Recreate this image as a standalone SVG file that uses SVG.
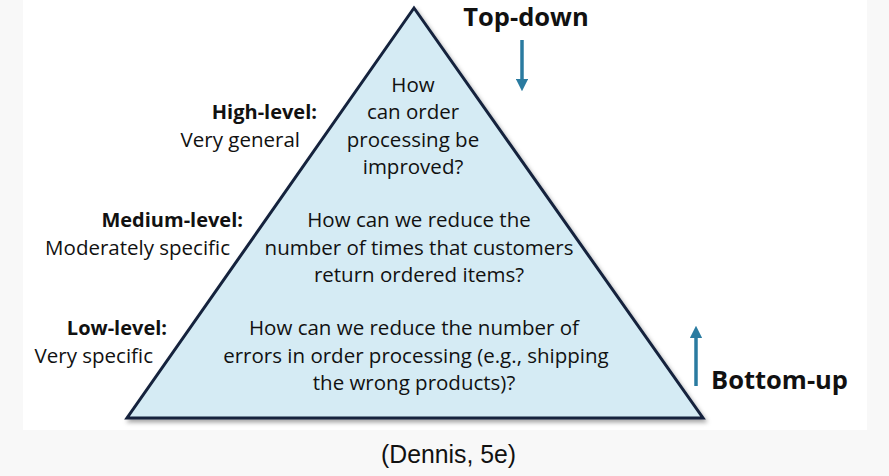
<svg xmlns="http://www.w3.org/2000/svg" width="889" height="476" viewBox="0 0 889 476">
  <style>
    .body { font-family: "Open Sans", "Liberation Sans", sans-serif; font-size: 20.5px; fill: #111111; }
    .lbl { font-family: "Open Sans", "Liberation Sans", sans-serif; font-size: 20px; font-weight: bold; fill: #111111; }
    .dir { font-family: "Open Sans", "Liberation Sans", sans-serif; font-size: 25.5px; font-weight: bold; fill: #111111; }
    .cap { font-family: "Liberation Sans", Arial, sans-serif; font-size: 26px; fill: #111111; }
    .arrow { stroke: #2a7ba0; stroke-width: 3.5; fill: none; }
  </style>
  <defs>
    <filter id="shadow" x="-10%" y="-10%" width="120%" height="120%">
      <feDropShadow dx="2" dy="3" stdDeviation="2" flood-color="#000000" flood-opacity="0.35"/>
    </filter>
    <marker id="head" viewBox="0 0 10 10" refX="5" refY="5" markerWidth="3.6" markerHeight="3.6" orient="auto-start-reverse" markerUnits="strokeWidth">
      <path d="M0,0 L10,5 L0,10 Z" fill="#2a7ba0"/>
    </marker>
  </defs>

  <rect x="0" y="0" width="889" height="476" fill="#f8f8f8"/>
  <rect x="23" y="0" width="844" height="430" fill="#ffffff"/>

  <g id="pyramid">
    <polygon points="414,8 703,418 127,418" fill="#d5ebf4" stroke="#13233d" stroke-width="3" stroke-linejoin="miter" filter="url(#shadow)"/>
  </g>

  <g id="high-question">
    <text class="body" text-anchor="middle" x="413" y="92">How</text>
    <text class="body" text-anchor="middle" x="413" y="119">can order</text>
    <text class="body" text-anchor="middle" x="413" y="147">processing be</text>
    <text class="body" text-anchor="middle" x="413" y="174">improved?</text>
  </g>

  <g id="medium-question">
    <text class="body" text-anchor="middle" x="419" y="227">How can we reduce the</text>
    <text class="body" text-anchor="middle" x="419" y="255">number of times that customers</text>
    <text class="body" text-anchor="middle" x="419" y="282">return ordered items?</text>
  </g>

  <g id="low-question">
    <text class="body" text-anchor="middle" x="414" y="335">How can we reduce the number of</text>
    <text class="body" text-anchor="middle" x="416" y="363">errors in order processing (e.g., shipping</text>
    <text class="body" text-anchor="middle" x="414" y="390">the wrong products)?</text>
  </g>

  <g id="high-label">
    <text class="lbl" text-anchor="end" x="317" y="119">High-level:</text>
    <text class="body" text-anchor="end" x="300" y="147">Very general</text>
  </g>

  <g id="medium-label">
    <text class="lbl" text-anchor="end" x="243" y="227">Medium-level:</text>
    <text class="body" text-anchor="end" x="230" y="255">Moderately specific</text>
  </g>

  <g id="low-label">
    <text class="lbl" text-anchor="end" x="167" y="335">Low-level:</text>
    <text class="body" text-anchor="end" x="153" y="363">Very specific</text>
  </g>

  <g id="top-down">
    <text class="dir" text-anchor="middle" x="526" y="26">Top-down</text>
  </g>

  <g id="bottom-up">
    <text class="dir" text-anchor="start" x="711" y="389">Bottom-up</text>
  </g>

  <g id="connectors">
    <line class="arrow" x1="522" y1="40" x2="522" y2="85" marker-end="url(#head)"/>
    <line class="arrow" x1="696" y1="386" x2="696" y2="332" marker-end="url(#head)"/>
  </g>

  <g id="caption">
    <text class="cap" text-anchor="middle" x="448.5" y="463" textLength="135" lengthAdjust="spacingAndGlyphs">(Dennis, 5e)</text>
  </g>
</svg>
